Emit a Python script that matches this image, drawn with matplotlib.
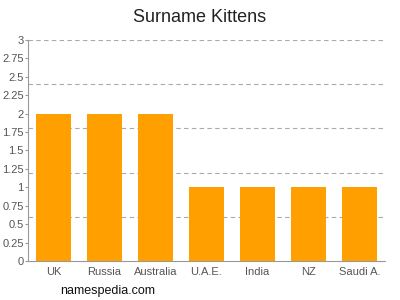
import matplotlib.pyplot as plt
import numpy as np

countries = ["UK", "Russia", "Australia", "U.A.E.", "India", "NZ", "Saudi A."]
counts = [2, 2, 2, 1, 1, 1, 1]
yticks = [0, 0.25, 0.5, 0.75, 1, 1.25, 1.5, 1.75, 2, 2.25, 2.5, 2.75, 3]
ytick_labels = ["0", "0.25", "0.5", "0.75", "1", "1.25", "1.5", "1.75", "2", "2.25", "2.5", "2.75", "3"]
grid_levels = [0.6, 1.2, 1.8, 2.4, 3.0]

plt.rcParams["font.family"] = ["Liberation Sans", "DejaVu Sans"]

fig = plt.figure(figsize=(4, 3), dpi=100)
ax = fig.add_axes([0.07, 0.13, 0.8925, 0.7367])

x = np.arange(len(countries))
for g in grid_levels:
    ax.axhline(g, color="#aaaaaa", linestyle=(0, (4, 3)), linewidth=0.8, zorder=0)
ax.bar(x, counts, width=0.69, color="#ffa000", zorder=2)

ax.set_xlim(-0.5, len(countries) - 0.5)
ax.set_ylim(0, 3)
ax.set_yticks(yticks)
ax.set_yticklabels(ytick_labels)
ax.set_xticks(x)
ax.set_xticklabels(countries)

for side in ["top", "right"]:
    ax.spines[side].set_visible(False)
for side in ["left", "bottom"]:
    ax.spines[side].set_color("#999999")
    ax.spines[side].set_linewidth(0.8)
ax.tick_params(axis="both", colors="#999999", labelcolor="#555555", labelsize=8, width=0.8)
ax.tick_params(axis="y", length=2, pad=1)
ax.tick_params(axis="x", length=0, pad=4)

fig.text(0.5, 0.94, "Surname Kittens", ha="center", va="center", fontsize=13, color="#222222")
fig.text(0.15, 0.03, "namespedia.com", ha="left", va="center", fontsize=9, color="#111111")

fig.savefig("out.png", dpi=100)
